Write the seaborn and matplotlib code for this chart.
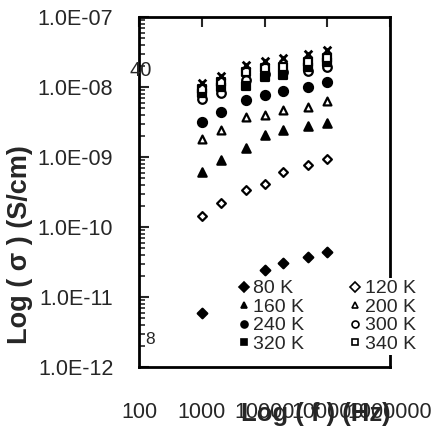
import numpy as np
import pandas as pd
import matplotlib
matplotlib.use("Agg")
import matplotlib.pyplot as plt
from matplotlib.lines import Line2D
from matplotlib.ticker import FuncFormatter, LogLocator
import seaborn as sns

# frequencies (Hz)
freq = [1000, 2000, 5000, 10000, 20000, 50000, 100000]

# conductivity (S/cm)
s80 = [5.9e-12, np.nan, np.nan, 2.43e-11, 3.06e-11, 3.73e-11, 4.4e-11]
s120 = [1.44e-10, 2.2e-10, 3.4e-10, 4.1e-10, 6.1e-10, 7.7e-10, 9.4e-10]
s160 = [6.1e-10, 9.1e-10, 1.35e-9, 2.06e-9, 2.43e-9, 2.77e-9, 3.06e-9]
s200 = [1.81e-9, 2.43e-9, 3.73e-9, 3.98e-9, 4.69e-9, 5.18e-9, 6.31e-9]
s240 = [3.16e-9, 4.4e-9, 6.5e-9, 7.7e-9, 8.8e-9, 1.0e-8, 1.18e-8]
s300 = [6.7e-9, 8.2e-9, 1.26e-8, 1.53e-8, 1.64e-8, 1.69e-8, 1.93e-8]
s320 = [8.2e-9, 1.0e-8, 1.03e-8, 1.39e-8, 1.48e-8, 1.93e-8, 2.28e-8]
s340 = [9.4e-9, 1.18e-8, 1.64e-8, 1.87e-8, 1.93e-8, 2.28e-8, 2.6e-8]
s_x = [1.14e-8, 1.44e-8, 2.06e-8, 2.35e-8, 2.6e-8, 2.96e-8, 3.38e-8]

labels = ["80 K", "120 K", "160 K", "200 K", "240 K", "300 K", "320 K", "340 K"]
x_ticks = [100, 1000, 10000, 100000, 1000000]
y_ticks = [1e-12, 1e-11, 1e-10, 1e-9, 1e-8, 1e-7]

sns.set_style("ticks")
plt.rcParams["font.family"] = ["Liberation Sans", "DejaVu Sans"]

fig = plt.figure(figsize=(4.39, 4.34), dpi=100)
ax = fig.add_axes([139 / 439, 1 - 367 / 434, 251 / 439, 350 / 434])

# (values, marker, filled, size)
series = [
    (s80, "D", True, 24),
    (s120, "D", False, 20),
    (s160, "^", True, 36),
    (s200, "^", False, 32),
    (s240, "o", True, 42),
    (s300, "o", False, 38),
    (s320, "s", True, 36),
    (s340, "s", False, 32),
]

handles = []
for (vals, mk, filled, sz), lab in zip(series, labels):
    df = pd.DataFrame({"f": freq, "s": vals}).dropna()
    sns.scatterplot(data=df, x="f", y="s", marker=mk, s=sz,
                    facecolor="black" if filled else "white",
                    edgecolor="black", linewidth=1.6, ax=ax, zorder=3)
    handles.append(Line2D([], [], ls="none", marker=mk, markersize=5,
                          markerfacecolor="black" if filled else "white",
                          markeredgecolor="black", markeredgewidth=1.2, label=lab))

# extra series (crosses) not in the legend
df_x = pd.DataFrame({"f": freq, "s": s_x})
sns.scatterplot(data=df_x, x="f", y="s", marker="x", s=30, color="black",
                linewidth=2, ax=ax, zorder=3)

ax.set_xscale("log")
ax.set_yscale("log")
ax.set_xlim(100, 1000000)
ax.set_ylim(1e-12, 1e-7)
ax.set_xlabel("")
ax.set_ylabel("")

ax.set_xticks(x_ticks)
ax.set_yticks(y_ticks)
ax.xaxis.set_minor_locator(LogLocator(base=10, subs=np.arange(2, 10)))
ax.yaxis.set_minor_locator(LogLocator(base=10, subs=np.arange(2, 10)))
ax.xaxis.set_major_formatter(FuncFormatter(lambda v, p: f"{int(round(v))}"))
ax.yaxis.set_major_formatter(FuncFormatter(lambda v, p: f"{v:.1E}"))
ax.xaxis.set_minor_formatter(FuncFormatter(lambda v, p: ""))
ax.yaxis.set_minor_formatter(FuncFormatter(lambda v, p: ""))

ax.tick_params(axis="x", which="both", top=True, bottom=False,
               labeltop=False, labelbottom=True, direction="in",
               pad=25, labelsize=15.5)
ax.tick_params(axis="y", which="both", left=True, right=False,
               direction="in", pad=18.5, labelsize=15.5)
ax.tick_params(which="major", length=7, width=1.5)
ax.tick_params(which="minor", length=4, width=1.2)

for side in ["left", "right", "top", "bottom"]:
    ax.spines[side].set_visible(True)
    ax.spines[side].set_linewidth(2)
    ax.spines[side].set_color("black")

order = [0, 2, 4, 6, 1, 3, 5, 7]
leg = ax.legend(handles=[handles[i] for i in order], ncol=2,
                loc="lower left", bbox_to_anchor=(97 / 251, 12 / 350),
                frameon=True, facecolor="white", edgecolor="none",
                framealpha=1, fontsize=14, handlelength=0.6,
                handletextpad=0.2, columnspacing=2.3, labelspacing=0.05,
                borderpad=0.1, borderaxespad=0)

fig.text(20 / 439, 1 - 245 / 434, "Log ( \u03c3 ) (S/cm)", rotation=90,
         ha="center", va="center", fontsize=19.5, fontweight="bold")
fig.text(316 / 439, 1 - 414 / 434, "Log ( f ) (Hz)", ha="center",
         va="center", fontsize=18.5, fontweight="bold")

# stray labels visible in the original
fig.text(141 / 439, 1 - 71 / 434, "40", ha="center", va="center", fontsize=14.5)
fig.text(150 / 439, 1 - 339 / 434, "8", ha="center", va="center", fontsize=12.5)

fig.savefig("out.png", dpi=100)
